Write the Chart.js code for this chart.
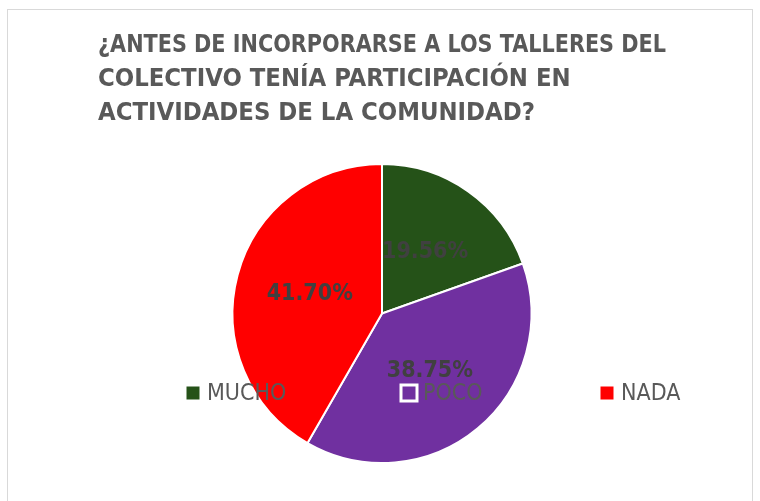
<!DOCTYPE html>
<html>
<head>
<meta charset="utf-8">
<script src="https://cdn.jsdelivr.net/npm/chart.js@4/dist/chart.umd.min.js"></script>
<style>
  html, body { margin: 0; padding: 0; background: #fff; }
  #wrap { position: relative; width: 760px; height: 501px; }
  #frame { position: absolute; left: 7px; top: 9px; width: 744px; height: 500px;
           border: 1px solid #d9d9d9; border-bottom: none; }
  canvas { position: absolute; left: 0; top: 0; }
</style>
</head>
<body>
<div id="wrap">
  <div id="frame"></div>
  <canvas id="chart" width="760" height="501"></canvas>
</div>
<script>
const titleLines = [
    '¿ANTES DE INCORPORARSE A LOS TALLERES DEL',
    'COLECTIVO TENÍA PARTICIPACIÓN EN',
    'ACTIVIDADES DE LA COMUNIDAD?'
];
const categories = ['MUCHO', 'POCO', 'NADA'];
const percentages = [19.56, 38.75, 41.70];
const sliceColors = ['#255218', '#7030A0', '#FF0000'];

const textFont = '"DejaVu Sans Condensed", "Liberation Sans Narrow", sans-serif';

// percentage labels at the middle of each slice
const sliceLabels = {
    id: 'sliceLabels',
    afterDatasetsDraw(chart) {
        const ctx = chart.ctx;
        const meta = chart.getDatasetMeta(0);
        ctx.save();
        ctx.font = 'bold 23px ' + textFont;
        ctx.fillStyle = '#404040';
        ctx.textAlign = 'center';
        ctx.textBaseline = 'middle';
        meta.data.forEach((arc, i) => {
            const p = arc.getCenterPoint();
            ctx.fillText(percentages[i].toFixed(2) + '%', p.x, p.y);
        });
        ctx.restore();
    }
};

// legend row drawn over the pie, like the original
const overLegend = {
    id: 'overLegend',
    afterDraw(chart) {
        const ctx = chart.ctx;
        const starts = [185, 401, 599];
        const y = 393;
        ctx.save();
        ctx.font = '23px ' + textFont;
        ctx.textBaseline = 'middle';
        categories.forEach((name, i) => {
            const x = starts[i];
            ctx.fillStyle = sliceColors[i];
            ctx.fillRect(x, y - 8, 16, 16);
            ctx.strokeStyle = '#ffffff';
            ctx.lineWidth = 3;
            ctx.strokeRect(x, y - 8, 16, 16);
            ctx.fillStyle = '#595959';
            ctx.fillText(name, x + 22, y + 1);
        });
        ctx.restore();
    }
};

new Chart(document.getElementById('chart'), {
    type: 'pie',
    data: {
        labels: categories,
        datasets: [{
            data: percentages,
            backgroundColor: sliceColors,
            borderColor: '#ffffff',
            borderWidth: 2
        }]
    },
    options: {
        responsive: false,
        animation: false,
        layout: {
            padding: { left: 98, right: 94, top: 0, bottom: 37 }
        },
        plugins: {
            legend: { display: false },
            tooltip: { enabled: false },
            title: {
                display: true,
                text: titleLines,
                align: 'start',
                color: '#595959',
                font: { family: textFont, size: 25.4, weight: 'bold', lineHeight: 1.34 },
                padding: { top: 28, bottom: 33 }
            }
        }
    },
    plugins: [sliceLabels, overLegend]
});
</script>
</body>
</html>
